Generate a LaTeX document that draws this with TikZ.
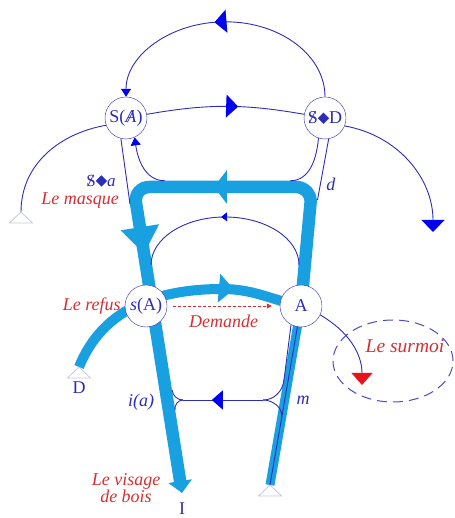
\documentclass[tikz,border=0pt]{standalone}
\usepackage{amsmath,amssymb}
\usepackage{xcolor}
\usepackage{fontspec}
\setmainfont{Liberation Serif}
\usepackage{tikz}
\usetikzlibrary{arrows.meta, positioning, decorations.markings, backgrounds}

\definecolor{trait}{RGB}{45,45,185}
\definecolor{pointe}{RGB}{0,0,240}
\definecolor{cyanfort}{RGB}{25,160,225}
\definecolor{rouge}{RGB}{212,48,52}
\definecolor{rougevif}{RGB}{232,18,28}
\definecolor{pale}{RGB}{200,200,225}

\newcommand{\barre}[1]{\ooalign{#1\cr\hidewidth\textit{/}\hidewidth\cr}}
\newcommand{\poincon}{\rotatebox{45}{\rule{8pt}{8pt}}}

\tikzset{
  Grande/.tip={Triangle[length=12pt,width=23pt,color=pointe]},
  Moyenne/.tip={Triangle[length=11pt,width=19pt,color=pointe]},
  Petite/.tip={Triangle[length=8pt,width=10pt,color=pointe]},
  Mini/.tip={Triangle[length=6pt,width=9pt,color=pointe]},
  Rouge/.tip={Triangle[length=12pt,width=21pt,color=rougevif]},
  lieu/.style={draw=trait, circle, fill=white, minimum size=42pt, inner sep=0pt,
    text=trait, font=\fontsize{18}{18}\selectfont},
  fil/.style={draw=trait, line width=0.9pt},
  gros/.style={draw=cyanfort, line width=12.5pt},
  etiq/.style={text=rouge, font=\fontsize{18}{17}\selectfont\itshape, inner sep=0pt},
  lettre/.style={text=trait, font=\fontsize{18}{18}\selectfont, inner sep=0pt},
  fleche/.style 2 args={postaction={decorate, decoration={markings,
    mark=at position #1 with {\arrow{#2}}}}},
  pied/.pic={\draw[pale, fill=white, line width=0.8pt] (0,0) -- (-11.5,-11) -- (11.5,-11) -- cycle;}
}

\begin{document}
\begin{tikzpicture}[x=1pt, y=1pt]
  \useasboundingbox (0,0) rectangle (454,518);

  % Les quatre lieux
  \node[lieu] (SA) at (126,400) {S(\barre{\textit{A}})};
  \node[lieu] (SD) at (325,400) {\barre{S}\poincon D};
  \node[lieu] (sA) at (146,212) {\textit{s}(A)};
  \node[lieu] (A) at (301,212) {A};

  % Points libres
  \coordinate (Gp) at (21,306);
  \coordinate (Dr) at (433,286);
  \coordinate (Dp) at (79,151);
  \coordinate (Bp) at (270,33);
  \coordinate (I) at (182,25);
  \coordinate (Sm) at (362,133);
  \coordinate (hd) at (312,331);
  \coordinate (hg) at (133.5,331);
  \coordinate (cA) at (222,229);
  \coordinate (jg) at (165,337.2);
  \coordinate (jd) at (290,337.2);
  \coordinate (ma) at (130,314);
  \coordinate (md) at (317.5,318);
  \coordinate (ad) at (299,253);
  \coordinate (lf) at (183,118);
  \coordinate (rf) at (263,118);
  \coordinate (fg1) at (172,128);
  \coordinate (fg2) at (175,108);
  \coordinate (fd1) at (284,138);
  \coordinate (fd2) at (281.6,100);

  \begin{scope}[on background layer]
    % Vecteurs epais
    \draw[gros, rounded corners=16pt, -{Triangle[length=12pt,width=23pt]},
      fleche={210pt}{Triangle[length=13pt,width=33pt]},
      fleche={350pt}{Triangle[length=27pt,width=37pt]}]
      (A.center) -- (hd) -- (hg) -- (I);
    \draw[gros, line width=10pt, fleche={186pt}{Triangle[length=15pt,width=28pt]}]
      (Dp) to[out=68,in=180] (cA) to[out=0,in=168] (A.center);
    \draw[gros, line width=9pt] (Bp) -- (A.center);
    % Fils
    \draw[fil] (Bp) -- (A.center);
    \draw[fil, -Petite, fleche={0.54}{Grande}]
      (SD.north) arc[start angle=0, end angle=180, x radius=99.5pt, y radius=75pt];
    \draw[fil, fleche={0.58}{Grande}] (SA.10) to[bend left=10] (SD.170);
    \draw[fil] (SA.200) to[out=190,in=90] (Gp);
    \draw[fil, -Grande] (SD.-22) to[out=-10,in=90] (Dr);
    \draw[fil, fleche={0.52}{Mini}]
      (ad) arc[start angle=0, end angle=180, x radius=74pt, y radius=48pt];
    \draw[fil] (SA.-104) -- (ma);
    \draw[fil, -Petite] (jg) to[out=180,in=-82] (SA.-66);
    \draw[fil] (SD.-108) to[out=-95,in=0] (jd);
    \draw[fil] (SD.-80) -- (md);
    \draw[fil, fleche={0.64}{Moyenne}] (rf) -- (lf);
    \draw[fil] (lf) to[out=180,in=-81] (fg1);
    \draw[fil] (lf) to[out=180,in=99] (fg2);
    \draw[fil] (A.-118) -- (fd1) to[out=-97,in=0] (rf);
    \draw[fil] (rf) to[out=0,in=80] (fd2);
  \end{scope}

  % Le surmoi
  \draw[draw=trait!85, line width=1pt, dash pattern=on 10pt off 6pt]
    (393,157) ellipse [x radius=60pt, y radius=41pt];
  \draw[fil, -Rouge] (A.-25) to[out=-30,in=90] (Sm);

  \pic at (Gp) {pied};
  \pic at (Dp) {pied};
  \pic at (Bp) {pied};

  % Demande
  \draw[rouge, line width=0.6pt, dash pattern=on 3pt off 2pt,
    -{Triangle[length=5pt,width=5pt]}, shorten <=6pt, shorten >=8pt]
    (sA) -- node[etiq, below=9pt] (demande) {Demande} (A);

  % Etiquettes
  \node[etiq] (masque) at (80,317) {Le masque};
  \node[lettre, font=\fontsize{17}{17}\selectfont] (sa) at (101,337) {\barre{S}\poincon\textit{a}};
  \node[etiq, left=4pt of sA] (refus) {Le refus};
  \node[lettre] (labd) at (331,334) {\textit{d}};
  \node[lettre] (labia) at (141,116) {\textit{i(a)}};
  \node[lettre] (labm) at (303,118) {\textit{m}};
  \node[lettre, below=15pt of Dp] (labD) {D};
  \node[lettre, below=10pt of I] (labI) {I};
  \node[etiq, align=center] (visage) at (126,30) {Le visage\\de bois};
  \node[etiq, font=\fontsize{19.5}{19}\selectfont\itshape] (surmoi) at (405,172) {Le surmoi};
\end{tikzpicture}
\end{document}
